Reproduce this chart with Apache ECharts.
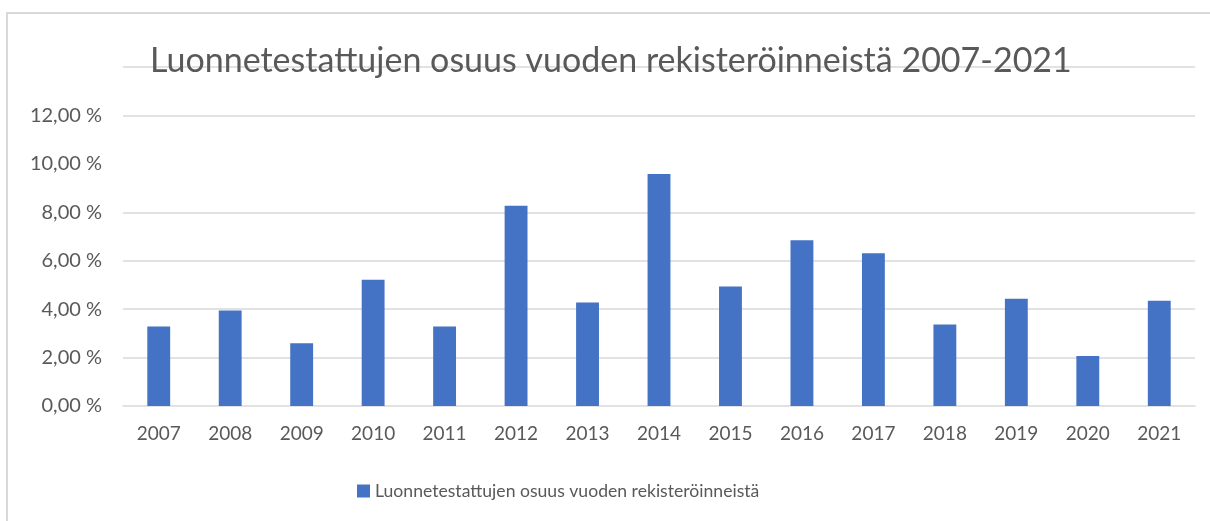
<!DOCTYPE html>
<html>
<head>
<meta charset="utf-8">
<script src="https://cdn.jsdelivr.net/npm/echarts@6/dist/echarts.min.js"></script>
<style>
  html, body { margin: 0; padding: 0; background: #fff; }
  #chart { width: 1210px; height: 521px; }
</style>
</head>
<body>
<div id="chart"></div>
<script>
// data
const years = ['2007', '2008', '2009', '2010', '2011', '2012', '2013', '2014',
  '2015', '2016', '2017', '2018', '2019', '2020', '2021']
const shares = [3.28, 3.94, 2.59, 5.21, 3.28, 8.27, 4.27, 9.58,
  4.93, 6.84, 6.31, 3.37, 4.43, 2.06, 4.35]
// gridlines drawn in the original (no line at 10 %)
const gridValues = [2, 4, 6, 8, 12, 14]
const seriesName = 'Luonnetestattujen osuus vuoden rekisteröinneistä'
const titleText = 'Luonnetestattujen osuus vuoden rekisteröinneistä 2007-2021'

const FONT = 'Lato, "Liberation Sans", sans-serif'
const GREY = '#595959'
const LINE = '#d9d9d9'

const chart = echarts.init(document.getElementById('chart'))

const option = {
  animation: false,
  textStyle: { fontFamily: FONT },
  title: {
    text: titleText,
    left: 145,
    top: 39,
    textStyle: { fontFamily: FONT, fontSize: 34, fontWeight: 'normal', color: GREY }
  },
  legend: {
    left: 352,
    top: 477,
    itemWidth: 13,
    itemHeight: 13,
    icon: 'rect',
    itemGap: 8,
    textStyle: { fontFamily: FONT, fontSize: 17.6, color: GREY },
    data: [seriesName]
  },
  grid: {
    left: 123,
    right: 15,
    top: 67,
    bottom: 115,
    containLabel: false
  },
  xAxis: {
    type: 'category',
    data: years,
    axisTick: { show: false },
    axisLine: { lineStyle: { color: LINE, width: 1.5 } },
    axisLabel: { fontFamily: FONT, fontSize: 19, color: GREY, margin: 18 }
  },
  yAxis: {
    type: 'value',
    min: 0,
    max: 14,
    interval: 2,
    axisLine: { show: false },
    axisTick: { show: false },
    splitLine: { show: false },
    axisLabel: {
      fontFamily: FONT,
      fontSize: 20,
      color: GREY,
      margin: 21,
      formatter: v => v >= 14 ? '' : v.toFixed(2).replace('.', ',') + ' %'
    }
  },
  series: [
    {
      name: seriesName,
      type: 'bar',
      data: shares,
      barWidth: '32%',
      itemStyle: { color: '#4472c4' },
      z: 3,
      markLine: {
        silent: true,
        z: 1,
        symbol: 'none',
        label: { show: false },
        lineStyle: { color: LINE, width: 1.5, type: 'solid' },
        data: gridValues.map(v => ({ yAxis: v }))
      }
    }
  ],
  graphic: [
    {
      type: 'rect',
      silent: true,
      shape: { x: 7, y: 13, width: 1220, height: 530 },
      style: { fill: 'none', stroke: LINE, lineWidth: 2 }
    }
  ]
}

chart.setOption(option)
</script>
</body>
</html>
